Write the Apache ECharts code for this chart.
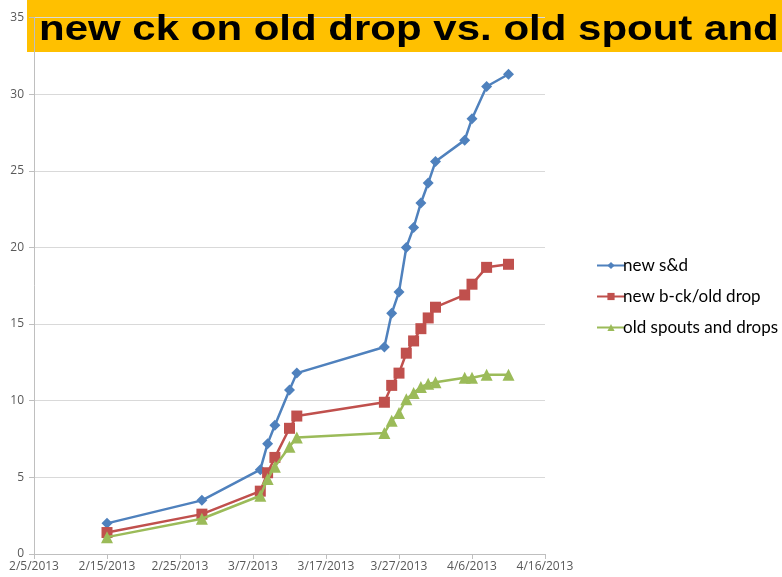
<!DOCTYPE html>
<html>
<head>
<meta charset="utf-8">
<script src="https://cdn.jsdelivr.net/npm/echarts@6/dist/echarts.min.js"></script>
<style>html,body{margin:0;padding:0;background:#fff}#c{width:782px;height:577px}</style>
</head>
<body>
<div id="c"></div>
<script>
var titleText = "new ck on old drop vs. old spout and";
var dates = ["2013-02-15","2013-02-28","2013-03-08","2013-03-09","2013-03-10","2013-03-12","2013-03-13","2013-03-25","2013-03-26","2013-03-27","2013-03-28","2013-03-29","2013-03-30","2013-03-31","2013-04-01","2013-04-05","2013-04-06","2013-04-08","2013-04-11"];
var seriesNames = ["new s&d","new b-ck/old drop","old spouts and drops"];
var newSD = [2.0,3.5,5.5,7.2,8.4,10.7,11.8,13.5,15.7,17.1,20.0,21.3,22.9,24.2,25.6,27.0,28.4,30.5,31.3];
var newBck = [1.4,2.6,4.1,5.3,6.3,8.2,9.0,9.9,11.0,11.8,13.1,13.9,14.7,15.4,16.1,16.9,17.6,18.7,18.9];
var oldSpouts = [1.1,2.3,3.8,4.9,5.7,7.0,7.6,7.9,8.7,9.2,10.1,10.5,10.9,11.1,11.2,11.5,11.5,11.7,11.7];
var xMinDate = "2013-02-05", xMaxDate = "2013-04-16";
var yMin = 0, yMax = 35, yStep = 5, xStepDays = 10;

function serial(s){var p=s.split('-');return (Date.UTC(+p[0],+p[1]-1,+p[2])-Date.UTC(1899,11,30))/86400000;}
function fmt(v){var d=new Date(Date.UTC(1899,11,30)+v*86400000);return (d.getUTCMonth()+1)+'/'+d.getUTCDate()+'/'+d.getUTCFullYear();}
function pts(arr){return dates.map(function(d,i){return [serial(d),arr[i]];});}

var colors = ['#4F81BD','#C0504D','#9BBB59'];
var symbols = ['diamond','rect','triangle'];
var sizes = [11,11,12];
var vals = [newSD,newBck,oldSpouts];

var chart = echarts.init(document.getElementById('c'));
chart.setOption({
  animation:false,
  color:colors,
  graphic:[
    {type:'rect',shape:{x:27,y:0,width:760,height:52},style:{fill:'#FFC000'},z:0},
    {type:'text',x:39,y:30,scaleX:1.2,scaleY:1,style:{text:titleText,fill:'#000',font:'bold 35px "Liberation Sans", Arial, sans-serif',textVerticalAlign:'middle'},z:1}
  ],
  grid:{left:34,right:237,top:17.5,bottom:23,containLabel:false},
  legend:{
    orient:'vertical',left:591,top:252,itemWidth:28,itemHeight:9,itemGap:14,
    textStyle:{fontFamily:'Lato, sans-serif',fontSize:17,color:'#000',padding:[0,0,0,-7]},
    data:seriesNames
  },
  xAxis:{
    type:'value',min:serial(xMinDate),max:serial(xMaxDate),interval:xStepDays,
    axisLine:{lineStyle:{color:'#BFBFBF',width:1}},
    axisTick:{show:true,length:5,lineStyle:{color:'#BFBFBF'}},
    splitLine:{show:false},
    axisLabel:{formatter:fmt,color:'#595959',fontSize:12,fontFamily:'"Open Sans", sans-serif',margin:7,showMaxLabel:true,showMinLabel:true}
  },
  yAxis:{
    type:'value',min:yMin,max:yMax,interval:yStep,
    axisLine:{show:true,lineStyle:{color:'#BFBFBF',width:1}},
    axisTick:{show:true,length:5,lineStyle:{color:'#BFBFBF'}},
    splitLine:{show:true,lineStyle:{color:'#D9D9D9',width:1}},
    axisLabel:{color:'#595959',fontSize:12,fontFamily:'"Open Sans", sans-serif',margin:10}
  },
  series:seriesNames.map(function(n,i){
    return {name:n,type:'line',data:pts(vals[i]),symbol:symbols[i],symbolSize:sizes[i],
      lineStyle:{width:2.5,color:colors[i]},itemStyle:{color:colors[i]},z:3+i};
  })
});
</script>
</body>
</html>
